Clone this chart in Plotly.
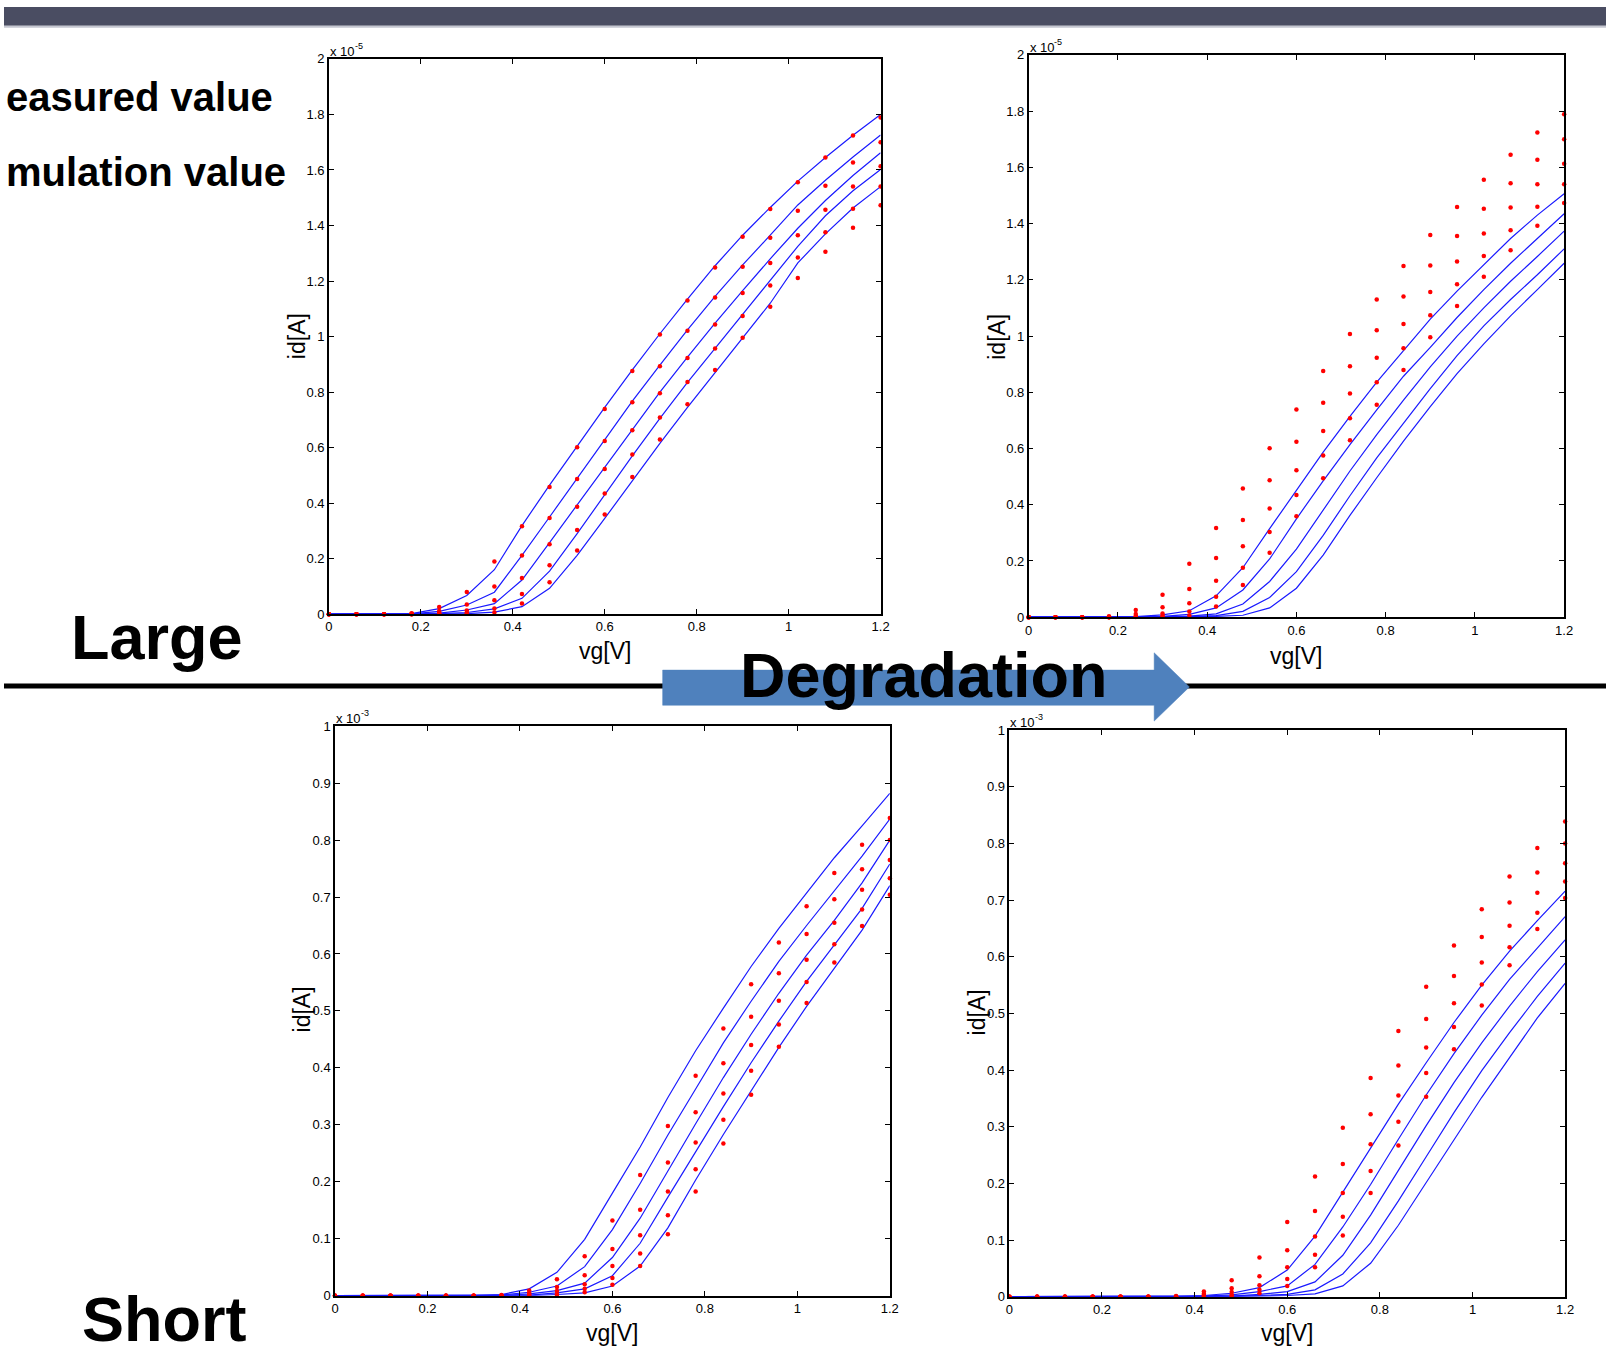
import plotly.graph_objects as go

W, H = 1615, 1363

# gate voltage sweep [V]
VG = [0.0, 0.06, 0.12, 0.18, 0.24, 0.30, 0.36, 0.42, 0.48, 0.54, 0.60,
      0.66, 0.72, 0.78, 0.84, 0.90, 0.96, 1.02, 1.08, 1.14, 1.20]

# Large device, measured drain current (x 1e-5 A), 5 curves
LARGE_MEAS_1 = [0, 0, 0, 0.003, 0.026, 0.080, 0.190, 0.317, 0.458, 0.601, 0.739, 0.876, 1.007, 1.130, 1.249, 1.359, 1.459, 1.556, 1.645, 1.724, 1.789]
LARGE_MEAS_2 = [0, 0, 0, 0.001, 0.011, 0.035, 0.100, 0.211, 0.346, 0.487, 0.624, 0.763, 0.893, 1.021, 1.141, 1.251, 1.356, 1.453, 1.543, 1.627, 1.700]
LARGE_MEAS_3 = [0, 0, 0, 0, 0.004, 0.013, 0.050, 0.130, 0.252, 0.387, 0.523, 0.662, 0.796, 0.923, 1.043, 1.157, 1.265, 1.365, 1.457, 1.540, 1.613]
LARGE_MEAS_4 = [0, 0, 0, 0, 0.002, 0.005, 0.020, 0.073, 0.176, 0.303, 0.435, 0.575, 0.708, 0.836, 0.957, 1.074, 1.184, 1.285, 1.376, 1.460, 1.540]
LARGE_MEAS_5 = [0, 0, 0, 0, 0.001, 0.002, 0.006, 0.038, 0.115, 0.229, 0.359, 0.494, 0.629, 0.756, 0.879, 0.996, 1.107, 1.211, 1.305, 1.392, 1.473]

# Large device, simulation before degradation (x 1e-5 A)
LARGE_SIM_1 = [0, 0, 0, 0.002, 0.020, 0.067, 0.160, 0.319, 0.465, 0.605, 0.745, 0.880, 1.010, 1.135, 1.255, 1.365, 1.465, 1.560, 1.645, 1.725, 1.800]
LARGE_SIM_2 = [0, 0, 0, 0.001, 0.010, 0.033, 0.079, 0.212, 0.350, 0.490, 0.628, 0.767, 0.897, 1.024, 1.145, 1.258, 1.365, 1.474, 1.563, 1.647, 1.726]
LARGE_SIM_3 = [0, 0, 0, 0, 0.004, 0.015, 0.038, 0.123, 0.258, 0.393, 0.530, 0.667, 0.800, 0.926, 1.048, 1.165, 1.280, 1.390, 1.490, 1.580, 1.662]
LARGE_SIM_4 = [0, 0, 0, 0, 0.002, 0.006, 0.019, 0.057, 0.155, 0.290, 0.430, 0.570, 0.705, 0.835, 0.957, 1.080, 1.200, 1.325, 1.435, 1.525, 1.602]
LARGE_SIM_5 = [0, 0, 0, 0, 0.001, 0.002, 0.007, 0.027, 0.093, 0.212, 0.345, 0.480, 0.615, 0.745, 0.870, 0.995, 1.120, 1.265, 1.370, 1.463, 1.540]

# Large device, simulation after degradation (x 1e-5 A)
LARGE_DEG_1 = [0, 0, 0, 0, 0.002, 0.008, 0.023, 0.076, 0.176, 0.315, 0.453, 0.587, 0.714, 0.836, 0.948, 1.060, 1.160, 1.254, 1.347, 1.430, 1.506]
LARGE_DEG_2 = [0, 0, 0, 0, 0, 0.003, 0.010, 0.033, 0.097, 0.207, 0.350, 0.485, 0.614, 0.737, 0.857, 0.960, 1.066, 1.165, 1.259, 1.347, 1.435]
LARGE_DEG_3 = [0, 0, 0, 0, 0, 0.001, 0.004, 0.012, 0.047, 0.127, 0.242, 0.381, 0.520, 0.649, 0.772, 0.890, 1.000, 1.100, 1.195, 1.283, 1.373]
LARGE_DEG_4 = [0, 0, 0, 0, 0, 0, 0.002, 0.006, 0.021, 0.070, 0.162, 0.291, 0.432, 0.567, 0.690, 0.813, 0.930, 1.036, 1.130, 1.218, 1.310]
LARGE_DEG_5 = [0, 0, 0, 0, 0, 0, 0.001, 0.003, 0.007, 0.033, 0.103, 0.221, 0.362, 0.496, 0.626, 0.749, 0.866, 0.972, 1.072, 1.165, 1.259]

# Short device, measured drain current (x 1e-3 A)
SHORT_MEAS_1 = [0, 0, 0, 0, 0, 0, 0.001, 0.009, 0.029, 0.069, 0.132, 0.212, 0.298, 0.386, 0.469, 0.547, 0.620, 0.684, 0.742, 0.792, 0.839]
SHORT_MEAS_2 = [0, 0, 0, 0, 0, 0, 0, 0.005, 0.015, 0.036, 0.082, 0.151, 0.234, 0.322, 0.408, 0.490, 0.566, 0.635, 0.696, 0.749, 0.800]
SHORT_MEAS_3 = [0, 0, 0, 0, 0, 0, 0, 0.003, 0.008, 0.020, 0.052, 0.106, 0.183, 0.269, 0.355, 0.440, 0.518, 0.590, 0.655, 0.713, 0.765]
SHORT_MEAS_4 = [0, 0, 0, 0, 0, 0, 0, 0.001, 0.003, 0.012, 0.031, 0.074, 0.141, 0.222, 0.309, 0.395, 0.476, 0.551, 0.617, 0.678, 0.733]
SHORT_MEAS_5 = [0, 0, 0, 0, 0, 0, 0, 0, 0.001, 0.006, 0.019, 0.052, 0.108, 0.183, 0.267, 0.353, 0.437, 0.514, 0.585, 0.649, 0.704]

# Short device, simulation before degradation (x 1e-3 A)
SHORT_SIM_1 = [0, 0, 0, 0, 0, 0, 0.002, 0.012, 0.041, 0.099, 0.180, 0.261, 0.348, 0.430, 0.505, 0.578, 0.645, 0.708, 0.769, 0.825, 0.882]
SHORT_SIM_2 = [0, 0, 0, 0, 0, 0, 0.001, 0.006, 0.017, 0.051, 0.116, 0.197, 0.282, 0.363, 0.444, 0.517, 0.587, 0.650, 0.711, 0.772, 0.837]
SHORT_SIM_3 = [0, 0, 0, 0, 0, 0, 0, 0.003, 0.009, 0.022, 0.067, 0.136, 0.220, 0.302, 0.383, 0.459, 0.531, 0.598, 0.659, 0.725, 0.800]
SHORT_SIM_4 = [0, 0, 0, 0, 0, 0, 0, 0.001, 0.005, 0.012, 0.035, 0.092, 0.173, 0.253, 0.332, 0.409, 0.482, 0.552, 0.616, 0.680, 0.758]
SHORT_SIM_5 = [0, 0, 0, 0, 0, 0, 0, 0, 0.002, 0.005, 0.017, 0.052, 0.119, 0.203, 0.283, 0.360, 0.436, 0.508, 0.575, 0.642, 0.720]

# Short device, simulation after degradation (x 1e-3 A)
SHORT_DEG_1 = [0, 0, 0, 0, 0, 0, 0, 0.002, 0.006, 0.016, 0.047, 0.107, 0.185, 0.264, 0.340, 0.413, 0.484, 0.550, 0.610, 0.664, 0.716]
SHORT_DEG_2 = [0, 0, 0, 0, 0, 0, 0, 0.001, 0.003, 0.009, 0.019, 0.057, 0.123, 0.198, 0.278, 0.356, 0.429, 0.497, 0.560, 0.615, 0.671]
SHORT_DEG_3 = [0, 0, 0, 0, 0, 0, 0, 0, 0.001, 0.004, 0.009, 0.026, 0.073, 0.144, 0.223, 0.302, 0.378, 0.448, 0.513, 0.574, 0.630]
SHORT_DEG_4 = [0, 0, 0, 0, 0, 0, 0, 0, 0, 0.002, 0.004, 0.012, 0.040, 0.095, 0.169, 0.247, 0.325, 0.399, 0.466, 0.530, 0.589]
SHORT_DEG_5 = [0, 0, 0, 0, 0, 0, 0, 0, 0, 0.001, 0.002, 0.005, 0.019, 0.059, 0.126, 0.202, 0.278, 0.352, 0.422, 0.492, 0.553]

X_TICKS = [0, 0.2, 0.4, 0.6, 0.8, 1, 1.2]
X_TICKTEXT = ["0", "0.2", "0.4", "0.6", "0.8", "1", "1.2"]
Y_TICKS_LARGE = [0, 0.2, 0.4, 0.6, 0.8, 1, 1.2, 1.4, 1.6, 1.8, 2]
Y_TICKTEXT_LARGE = ["0", "0.2", "0.4", "0.6", "0.8", "1", "1.2", "1.4", "1.6", "1.8", "2"]
Y_TICKS_SHORT = [0, 0.1, 0.2, 0.3, 0.4, 0.5, 0.6, 0.7, 0.8, 0.9, 1]
Y_TICKTEXT_SHORT = ["0", "0.1", "0.2", "0.3", "0.4", "0.5", "0.6", "0.7", "0.8", "0.9", "1"]

LARGE_MEAS = [LARGE_MEAS_1, LARGE_MEAS_2, LARGE_MEAS_3, LARGE_MEAS_4, LARGE_MEAS_5]
LARGE_SIM = [LARGE_SIM_1, LARGE_SIM_2, LARGE_SIM_3, LARGE_SIM_4, LARGE_SIM_5]
LARGE_DEG = [LARGE_DEG_1, LARGE_DEG_2, LARGE_DEG_3, LARGE_DEG_4, LARGE_DEG_5]
SHORT_MEAS = [SHORT_MEAS_1, SHORT_MEAS_2, SHORT_MEAS_3, SHORT_MEAS_4, SHORT_MEAS_5]
SHORT_SIM = [SHORT_SIM_1, SHORT_SIM_2, SHORT_SIM_3, SHORT_SIM_4, SHORT_SIM_5]
SHORT_DEG = [SHORT_DEG_1, SHORT_DEG_2, SHORT_DEG_3, SHORT_DEG_4, SHORT_DEG_5]

TICK_FONT = "Liberation Sans Narrow, Arial Narrow, Liberation Sans, Arial, sans-serif"
BOLD_FONT = "Liberation Sans, Arial, Helvetica, sans-serif"


def px_x(px):
    return px / W


def px_y(py):
    return 1 - py / H


# panel boxes in page pixels: left, right, top, bottom; axis title centres
PANELS = [
    ("", (327.5, 883.7, 52.5, 613.9), LARGE_MEAS, LARGE_SIM, Y_TICKS_LARGE, Y_TICKTEXT_LARGE, 2, "-5",
     (605.6, 651), (295.5, 332.7)),
    ("2", (1033.0, 1572.8, 48.4, 617.0), LARGE_MEAS, LARGE_DEG, Y_TICKS_LARGE, Y_TICKTEXT_LARGE, 2, "-5",
     (1302, 656), (1001.5, 333)),
    ("3", (333.7, 893.0, 727.2, 1303.0), SHORT_MEAS, SHORT_SIM, Y_TICKS_SHORT, Y_TICKTEXT_SHORT, 1, "-3",
     (613, 1341), (300, 1014)),
    ("4", (1013.5, 1573.8, 731.3, 1304.0), SHORT_MEAS, SHORT_DEG, Y_TICKS_SHORT, Y_TICKTEXT_SHORT, 1, "-3",
     (1293, 1341), (980.5, 1017)),
]

fig = go.Figure()
layout_axes = {}
annotations = []
TITLE_FONT = dict(family=TICK_FONT, size=23, color="black")

for sfx, (l, r, t, b), meas, sim, yt, ytt, ymax, expo, xt_pos, yt_pos in PANELS:
    xa = "x" + sfx
    ya = "y" + sfx
    for curve in sim:
        fig.add_trace(go.Scatter(x=VG, y=curve, mode="lines", xaxis=xa, yaxis=ya,
                                 line=dict(color="#1a1aff", width=1.2),
                                 showlegend=False, hoverinfo="skip"))
    for curve in meas:
        fig.add_trace(go.Scatter(x=VG, y=curve, mode="markers", xaxis=xa, yaxis=ya,
                                 marker=dict(color="#ff0000", size=4.5),
                                 cliponaxis=False, showlegend=False))
    common = dict(showline=True, linecolor="black", linewidth=1.5, mirror="ticks",
                  ticks="inside", ticklen=5, tickwidth=1, tickcolor="black",
                  showgrid=False, zeroline=False,
                  tickfont=dict(family=TICK_FONT, size=13, color="black"))
    layout_axes["xaxis" + sfx] = dict(
        domain=[px_x(l), px_x(r)], range=[0, 1.2], anchor=ya,
        tickmode="array", tickvals=X_TICKS, ticktext=X_TICKTEXT, **common)
    layout_axes["yaxis" + sfx] = dict(
        domain=[px_y(b), px_y(t)], range=[0, ymax], anchor=xa,
        tickmode="array", tickvals=yt, ticktext=ytt, **common)
    # axis titles
    annotations.append(dict(text="vg[V]", x=px_x(xt_pos[0]), y=px_y(xt_pos[1]),
                            xanchor="center", yanchor="middle", font=TITLE_FONT))
    annotations.append(dict(text="id[A]", x=px_x(yt_pos[0]), y=px_y(yt_pos[1]), textangle=-90,
                            xanchor="center", yanchor="middle", font=TITLE_FONT))
    # MATLAB style exponent label
    annotations.append(dict(
        text="x 10", x=px_x(l - 1), y=px_y(t), xanchor="left", yanchor="bottom", yshift=-2,
        font=dict(family=TICK_FONT, size=13, color="black")))
    annotations.append(dict(
        text=expo, x=px_x(l + 24), y=px_y(t), xanchor="left", yanchor="bottom", yshift=6,
        font=dict(family=TICK_FONT, size=9, color="black")))

annotations += [
    dict(text="<b>easured value</b>", x=0, y=px_y(91), xanchor="left", yanchor="middle",
         font=dict(family=BOLD_FONT, size=40, color="black")),
    dict(text="<b>mulation value</b>", x=0, y=px_y(167), xanchor="left", yanchor="middle",
         font=dict(family=BOLD_FONT, size=40, color="black")),
    dict(text="<b>Large</b>", x=px_x(154.5), y=px_y(637), xanchor="center", yanchor="middle",
         font=dict(family=BOLD_FONT, size=63, color="black")),
    dict(text="<b>Short</b>", x=px_x(162), y=px_y(1327), xanchor="center", yanchor="middle",
         font=dict(family=BOLD_FONT, size=63, color="black")),
    dict(text="<b>Degradation</b>", x=px_x(927), y=px_y(675), xanchor="center", yanchor="middle",
         font=dict(family=BOLD_FONT, size=63, color="black")),
]
for a in annotations:
    a.update(xref="paper", yref="paper", showarrow=False)

arrow_pts = [(664, 670.5), (1159.5, 670.5), (1159.5, 653), (1195, 687.5),
             (1159.5, 722), (1159.5, 706), (664, 706)]
arrow_path = "M " + " L ".join(f"{px_x(x):.5f},{px_y(y):.5f}" for x, y in arrow_pts) + " Z"

shapes = [
    dict(type="rect", xref="paper", yref="paper", x0=0, x1=1, y0=px_y(19), y1=1,
         fillcolor="#4a4d62", line=dict(width=0), layer="below"),
    dict(type="rect", xref="paper", yref="paper", x0=0, x1=1, y0=px_y(21), y1=px_y(19),
         fillcolor="#c4c6d0", line=dict(width=0), layer="below"),
    dict(type="line", xref="paper", yref="paper", x0=0, x1=1, y0=px_y(686.5), y1=px_y(686.5),
         line=dict(color="black", width=5)),
    dict(type="path", xref="paper", yref="paper", path=arrow_path,
         fillcolor="#4f81bd", line=dict(color="#4f81bd", width=0.5)),
]

fig.update_layout(
    width=W, height=H, margin=dict(l=0, r=0, t=0, b=0),
    paper_bgcolor="white", plot_bgcolor="white",
    showlegend=False, annotations=annotations, shapes=shapes,
    **layout_axes,
)

fig.write_html("out.html", config={"displayModeBar": False},
               post_script="document.body.style.margin='0px';document.body.style.overflow='hidden';")
